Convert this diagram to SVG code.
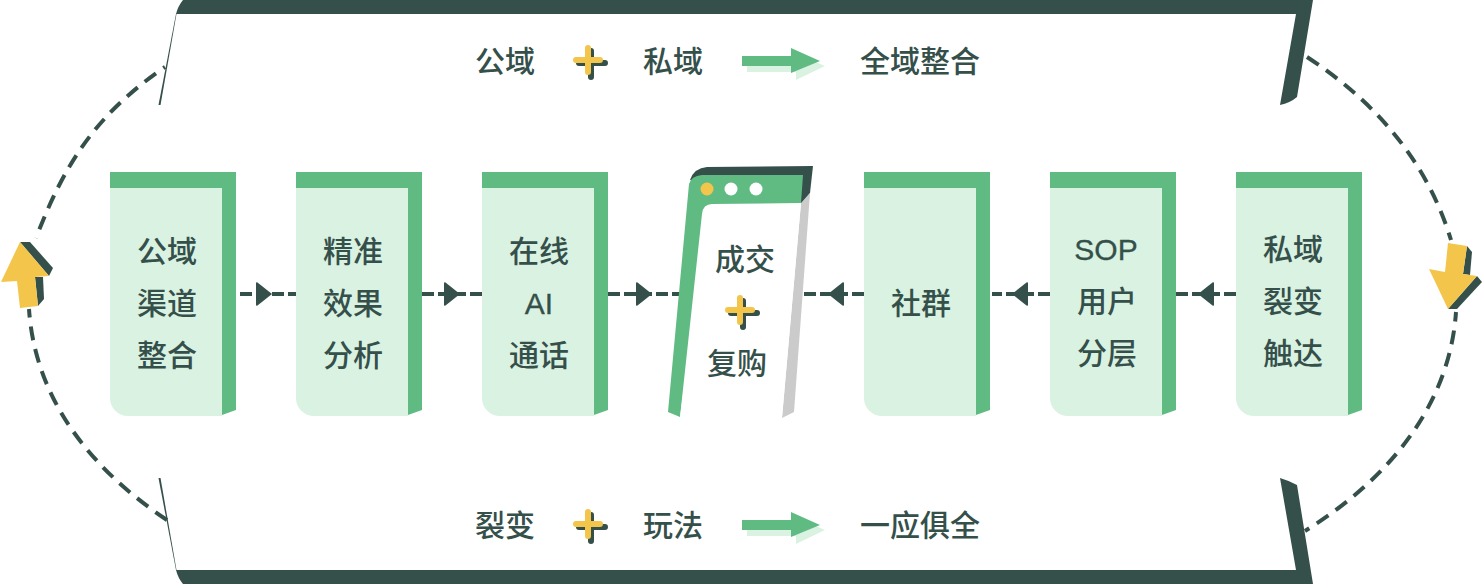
<svg xmlns="http://www.w3.org/2000/svg" width="1482" height="584" viewBox="0 0 1482 584">
<style>
text{font-family:"Noto Sans CJK SC","Noto Sans",sans-serif;font-size:30px;font-weight:500;fill:#35504a;text-anchor:middle}
text.latin{font-family:"Liberation Sans","Noto Sans CJK SC",sans-serif;font-weight:400;stroke:#35504a;stroke-width:.3}
.dark{fill:#35504a}.green{fill:#60bb83}.light{fill:#daf2e2}.yellow{fill:#f3c54a}.gray{fill:#cbcbcb}.white{fill:#fff}
.dash{fill:none;stroke:#35504a;stroke-width:4;stroke-dasharray:14 9}
.hd{fill:none;stroke:#35504a;stroke-width:4;stroke-dasharray:12 4}
</style>
<defs>
<g id="card">
<path class="green" d="M0 0H126V238L112 243V16H0Z"/>
<path class="light" d="M0 16H112V244H18A18 18 0 0 1 0 226Z"/>
</g>
<g id="plus">
<path d="M3 -9V17M-9 3H17" fill="none" stroke="#35504a" stroke-width="6" stroke-linecap="round"/>
<path d="M0 -12V12M-12 0H12" fill="none" stroke="#f3c54a" stroke-width="6" stroke-linecap="round"/>
</g>
<g id="arrow">
<path class="light" d="M5 3H54V-5L83 8L54 22V14H5Z" transform="translate(0 5)"/>
<path class="green" d="M0 3H49V-5L78 8L49 20V13H0Z"/>
</g>
<path id="tri" class="dark" d="M0 -11Q0 -12 1.500 -11.500L16 0L1.500 11.500Q0 12 0 11Z"/>
</defs>

<g id="frame-top">
<path class="dark" d="M176 14Q178 6 183 0H1313L1297 97Q1290 103 1280 105L1296 14Z"/>
<path class="dark" d="M176 14L158.500 105H160.500L176.500 14Z"/>
</g>
<g id="frame-bottom">
<path class="dark" d="M176 570Q178 578 183 584H1313L1297 485Q1290 481 1280 478L1296 570Z"/>
<path class="dark" d="M176 570L158.500 478H160.500L176.500 570Z"/>
</g>

<g id="connectors">
<path class="dash" stroke-dashoffset="12" d="M165 67C95 115 64 165 36 238"/>
<path class="dash" d="M167 520C92 470 35 400 29 309"/>
<path class="dash" d="M1307 57C1380 105 1428 165 1451 240"/>
<path class="dash" stroke-dashoffset="9" d="M1305 531C1395 475 1450 400 1456 312"/>
<path class="hd" d="M240 294H296"/>
<path class="hd" d="M422 294H482"/>
<path class="hd" d="M608 294H680"/>
<path class="hd" d="M864 294H802"/>
<path class="hd" d="M1050 294H992"/>
<path class="hd" d="M1236 294H1176"/>
<use href="#tri" x="256" y="294"/>
<use href="#tri" x="444" y="294"/>
<use href="#tri" x="636" y="294"/>
<use href="#tri" transform="translate(844 294) scale(-1 1)"/>
<use href="#tri" transform="translate(1028 294) scale(-1 1)"/>
<use href="#tri" transform="translate(1214 294) scale(-1 1)"/>
</g>

<g id="arrow-left">
<path class="dark" d="M20 242H30L53 268L49 276Z"/>
<path class="dark" d="M35 277H43L44 299L38 306Z"/>
<path class="yellow" d="M20 242L1 282L17 281L20 308L38 306L35 277L49 276Z"/>
</g>
<g id="arrow-right">
<path class="dark" d="M1477 276L1482 282L1457 309H1448Z"/>
<path class="dark" d="M1467 246L1472 252L1470 275L1463 274Z"/>
<path class="yellow" d="M1448 309L1429 269L1445 272L1448 243L1467 246L1463 274L1477 276Z"/>
</g>

<g id="row-top">
<text x="505" y="72">公域</text>
<use href="#plus" x="588" y="60"/>
<text x="673" y="72">私域</text>
<use href="#arrow" x="742" y="53"/>
<text x="920" y="72">全域整合</text>
</g>
<g id="row-bottom">
<text x="505" y="536">裂变</text>
<use href="#plus" x="588" y="524"/>
<text x="673" y="536">玩法</text>
<use href="#arrow" x="742" y="517"/>
<text x="920" y="536">一应俱全</text>
</g>

<g id="node-1"><use href="#card" x="110" y="172"/><text x="167" y="262">公域</text><text x="167" y="314">渠道</text><text x="167" y="366">整合</text></g>
<g id="node-2"><use href="#card" x="296" y="172"/><text x="353" y="262">精准</text><text x="353" y="314">效果</text><text x="353" y="366">分析</text></g>
<g id="node-3"><use href="#card" x="482" y="172"/><text x="539" y="262">在线</text><text class="latin" x="539" y="314">AI</text><text x="539" y="366">通话</text></g>

<g id="node-center">
<path class="dark" d="M690 180Q694 168 707 167L813 166L810 193L801 204Z"/>
<path class="gray" d="M801 203L810 193L794 412L782 418Z"/>
<path class="green" d="M689 184Q691 176 702 175H803L801 203L707 215L680 417L668 412Z"/>
<path class="white" d="M702 214Q703 204 712 204L801 203L782 418Q730 424 680 417Z"/>
<circle class="yellow" cx="707" cy="189" r="6.500"/>
<circle class="white" cx="731" cy="189" r="6.500"/>
<circle class="white" cx="756" cy="189" r="6.500"/>
<text x="745" y="270">成交</text>
<use href="#plus" x="740" y="310"/>
<text x="737" y="374">复购</text>
</g>

<g id="node-4"><use href="#card" x="864" y="172"/><text x="921" y="314">社群</text></g>
<g id="node-5"><use href="#card" x="1050" y="172"/><text class="latin" x="1106" y="260">SOP</text><text x="1107" y="312">用户</text><text x="1107" y="364">分层</text></g>
<g id="node-6"><use href="#card" x="1236" y="172"/><text x="1293" y="260">私域</text><text x="1293" y="312">裂变</text><text x="1293" y="364">触达</text></g>
</svg>
